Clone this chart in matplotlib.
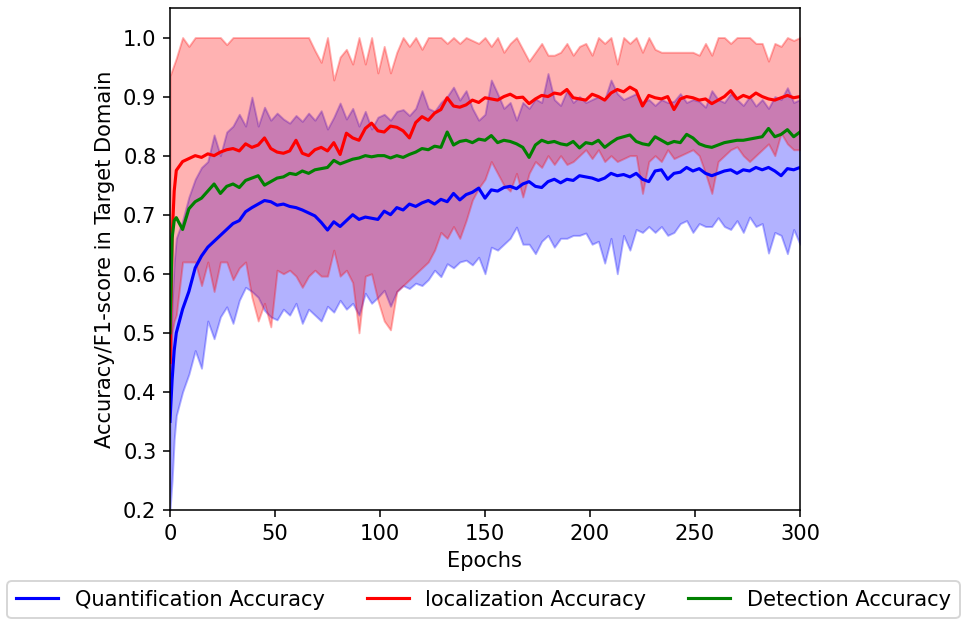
import matplotlib
matplotlib.use('Agg')
import matplotlib.pyplot as plt

# Эпохи: первые три подряд, дальше каждая третья
epochs = [0, 1, 2] + list(range(3, 301, 3))

# Quantification accuracy: среднее и границы разброса
quant_mean = [
    0.35, 0.42, 0.47, 0.50, 0.54, 0.57, 0.61, 0.63, 0.645, 0.655,
    0.665, 0.675, 0.685, 0.69, 0.705, 0.712, 0.718, 0.724, 0.722, 0.716,
    0.718, 0.714, 0.712, 0.708, 0.703, 0.698, 0.687, 0.674, 0.688, 0.680,
    0.690, 0.700, 0.692, 0.696, 0.694, 0.692, 0.706, 0.700, 0.712, 0.708,
    0.718, 0.714, 0.720, 0.724, 0.718, 0.726, 0.722, 0.736, 0.725, 0.734,
    0.738, 0.745, 0.728, 0.742, 0.740, 0.746, 0.748, 0.744, 0.752, 0.756,
    0.748, 0.746, 0.756, 0.760, 0.754, 0.760, 0.758, 0.766, 0.764, 0.762,
    0.758, 0.762, 0.770, 0.766, 0.768, 0.764, 0.770, 0.760, 0.756, 0.774,
    0.776, 0.760, 0.770, 0.772, 0.780, 0.774, 0.778, 0.770, 0.766, 0.770,
    0.774, 0.776, 0.770, 0.776, 0.774, 0.780, 0.776, 0.780, 0.774, 0.766,
    0.778, 0.776, 0.780,
]
quant_lo = [
    0.20, 0.25, 0.32, 0.36, 0.40, 0.43, 0.47, 0.44, 0.52, 0.49,
    0.527, 0.544, 0.516, 0.555, 0.577, 0.57, 0.56, 0.538, 0.527, 0.522,
    0.54, 0.53, 0.55, 0.516, 0.54, 0.53, 0.52, 0.545, 0.535, 0.555,
    0.54, 0.55, 0.53, 0.567, 0.55, 0.56, 0.572, 0.545, 0.57, 0.58,
    0.575, 0.584, 0.58, 0.59, 0.606, 0.595, 0.617, 0.61, 0.62, 0.623,
    0.615, 0.628, 0.60, 0.645, 0.64, 0.65, 0.66, 0.679, 0.65, 0.65,
    0.634, 0.655, 0.665, 0.645, 0.66, 0.66, 0.665, 0.665, 0.669, 0.65,
    0.655, 0.618, 0.66, 0.60, 0.665, 0.64, 0.675, 0.67, 0.68, 0.67,
    0.68, 0.665, 0.67, 0.685, 0.69, 0.67, 0.685, 0.68, 0.68, 0.695,
    0.68, 0.675, 0.69, 0.67, 0.696, 0.68, 0.685, 0.635, 0.67, 0.665,
    0.634, 0.675, 0.65,
]
quant_hi = [
    0.40, 0.55, 0.62, 0.66, 0.69, 0.73, 0.76, 0.78, 0.79, 0.835,
    0.80, 0.84, 0.85, 0.87, 0.85, 0.899, 0.85, 0.882, 0.86, 0.872,
    0.862, 0.855, 0.868, 0.858, 0.872, 0.86, 0.876, 0.845, 0.865, 0.889,
    0.862, 0.88, 0.85, 0.875, 0.845, 0.865, 0.87, 0.86, 0.875, 0.878,
    0.868, 0.88, 0.91, 0.88, 0.875, 0.89, 0.90, 0.916, 0.894, 0.91,
    0.88, 0.86, 0.87, 0.928, 0.905, 0.88, 0.89, 0.86, 0.89, 0.88,
    0.896, 0.89, 0.939, 0.895, 0.885, 0.91, 0.89, 0.90, 0.89, 0.895,
    0.90, 0.895, 0.928, 0.905, 0.895, 0.90, 0.905, 0.89, 0.895, 0.885,
    0.895, 0.89, 0.892, 0.905, 0.89, 0.895, 0.892, 0.882, 0.91, 0.895,
    0.89, 0.905, 0.895, 0.885, 0.90, 0.884, 0.895, 0.88, 0.90, 0.895,
    0.915, 0.89, 0.895,
]

# Localization accuracy
loc_mean = [
    0.45, 0.66, 0.74, 0.775, 0.79, 0.795, 0.80, 0.797, 0.803, 0.800,
    0.806, 0.810, 0.812, 0.808, 0.820, 0.814, 0.818, 0.830, 0.812, 0.806,
    0.804, 0.808, 0.826, 0.804, 0.800, 0.810, 0.814, 0.808, 0.822, 0.802,
    0.838, 0.830, 0.826, 0.846, 0.855, 0.842, 0.840, 0.850, 0.848, 0.842,
    0.830, 0.856, 0.866, 0.860, 0.872, 0.878, 0.898, 0.884, 0.882, 0.886,
    0.894, 0.890, 0.898, 0.896, 0.894, 0.900, 0.904, 0.898, 0.899, 0.888,
    0.896, 0.902, 0.900, 0.906, 0.904, 0.912, 0.898, 0.896, 0.894, 0.904,
    0.900, 0.894, 0.906, 0.912, 0.908, 0.916, 0.910, 0.884, 0.902, 0.898,
    0.896, 0.900, 0.878, 0.896, 0.900, 0.898, 0.894, 0.896, 0.888, 0.894,
    0.900, 0.910, 0.896, 0.902, 0.898, 0.906, 0.900, 0.896, 0.894, 0.898,
    0.902, 0.898, 0.900,
]
loc_lo = [
    0.38, 0.50, 0.52, 0.53, 0.62, 0.62, 0.62, 0.58, 0.62, 0.57,
    0.62, 0.62, 0.59, 0.61, 0.62, 0.56, 0.52, 0.55, 0.51, 0.606,
    0.600, 0.606, 0.596, 0.577, 0.596, 0.606, 0.596, 0.596, 0.640, 0.596,
    0.606, 0.585, 0.50, 0.596, 0.60, 0.555, 0.52, 0.505, 0.57, 0.58,
    0.59, 0.60, 0.61, 0.62, 0.64, 0.67, 0.66, 0.68, 0.66, 0.69,
    0.725, 0.745, 0.76, 0.79, 0.77, 0.75, 0.74, 0.77, 0.73, 0.77,
    0.79, 0.78, 0.80, 0.785, 0.80, 0.785, 0.79, 0.80, 0.81, 0.795,
    0.81, 0.79, 0.80, 0.79, 0.795, 0.80, 0.80, 0.736, 0.79, 0.80,
    0.79, 0.81, 0.795, 0.80, 0.805, 0.81, 0.80, 0.77, 0.736, 0.79,
    0.80, 0.81, 0.815, 0.80, 0.79, 0.80, 0.81, 0.82, 0.80, 0.838,
    0.82, 0.81, 0.81,
]
loc_hi = [
    0.935, 0.945, 0.955, 0.965, 1.0, 0.985, 1.0, 1.0, 1.0, 1.0,
    1.0, 0.988, 1.0, 1.0, 1.0, 1.0, 1.0, 1.0, 1.0, 1.0,
    1.0, 1.0, 1.0, 1.0, 1.0, 0.978, 0.958, 1.0, 0.928, 0.967,
    0.98, 0.955, 1.0, 0.955, 1.0, 0.94, 0.985, 0.94, 0.975, 1.0,
    0.985, 1.0, 0.98, 1.0, 1.0, 1.0, 0.99, 1.0, 0.99, 1.0,
    0.995, 0.99, 1.0, 0.985, 1.0, 0.975, 0.99, 1.0, 0.98, 0.96,
    0.975, 0.99, 0.97, 0.97, 0.975, 0.99, 0.97, 0.985, 0.99, 0.97,
    1.0, 0.99, 1.0, 0.955, 1.0, 0.99, 1.0, 0.975, 1.0, 0.98,
    0.975, 0.975, 0.975, 0.975, 0.975, 0.975, 0.97, 0.99, 0.97, 1.0,
    1.0, 0.99, 1.0, 1.0, 1.0, 0.99, 0.99, 0.96, 0.99, 0.985,
    1.0, 0.995, 1.0,
]

# Detection accuracy (без полосы разброса)
det_mean = [
    0.50, 0.66, 0.69, 0.695, 0.675, 0.71, 0.722, 0.728, 0.740, 0.752,
    0.736, 0.748, 0.752, 0.746, 0.758, 0.762, 0.766, 0.750, 0.756, 0.762,
    0.764, 0.770, 0.768, 0.774, 0.770, 0.776, 0.778, 0.780, 0.792, 0.786,
    0.790, 0.794, 0.796, 0.800, 0.798, 0.800, 0.800, 0.796, 0.800, 0.797,
    0.802, 0.806, 0.812, 0.810, 0.816, 0.814, 0.840, 0.818, 0.824, 0.826,
    0.822, 0.828, 0.826, 0.834, 0.822, 0.826, 0.824, 0.820, 0.814, 0.797,
    0.818, 0.826, 0.822, 0.824, 0.820, 0.818, 0.824, 0.813, 0.822, 0.820,
    0.826, 0.814, 0.822, 0.829, 0.832, 0.835, 0.824, 0.820, 0.818, 0.832,
    0.826, 0.820, 0.824, 0.822, 0.836, 0.830, 0.820, 0.816, 0.814, 0.818,
    0.822, 0.824, 0.826, 0.826, 0.828, 0.830, 0.832, 0.846, 0.832, 0.836,
    0.844, 0.832, 0.840,
]

plt.rcParams['font.size'] = 10.8

DPI = 140
fig = plt.figure(figsize=(967 / DPI, 619 / DPI), dpi=DPI)
ax = fig.add_axes([0.1758, 0.1761, 0.6515, 0.811])

# Сначала синяя полоса, поверх неё красная
ax.fill_between(epochs, quant_lo, quant_hi, color='blue', alpha=0.3)
ax.fill_between(epochs, loc_lo, loc_hi, color='red', alpha=0.3)

ax.plot(epochs, quant_mean, color='blue', linewidth=1.6, label='Quantification Accuracy')
ax.plot(epochs, loc_mean, color='red', linewidth=1.6, label='localization Accuracy')
ax.plot(epochs, det_mean, color='green', linewidth=1.6, label='Detection Accuracy')

ax.set_xlim(0, 300)
ax.set_ylim(0.2, 1.05)
ax.set_xticks([0, 50, 100, 150, 200, 250, 300])
ax.set_yticks([0.2, 0.3, 0.4, 0.5, 0.6, 0.7, 0.8, 0.9, 1.0])
ax.set_xlabel('Epochs')
ax.set_ylabel('Accuracy/F1-score in Target Domain')

fig.legend(loc='center', bbox_to_anchor=(0.5, 0.031), ncol=3)

fig.savefig('out.png', dpi=DPI)
plt.close(fig)
